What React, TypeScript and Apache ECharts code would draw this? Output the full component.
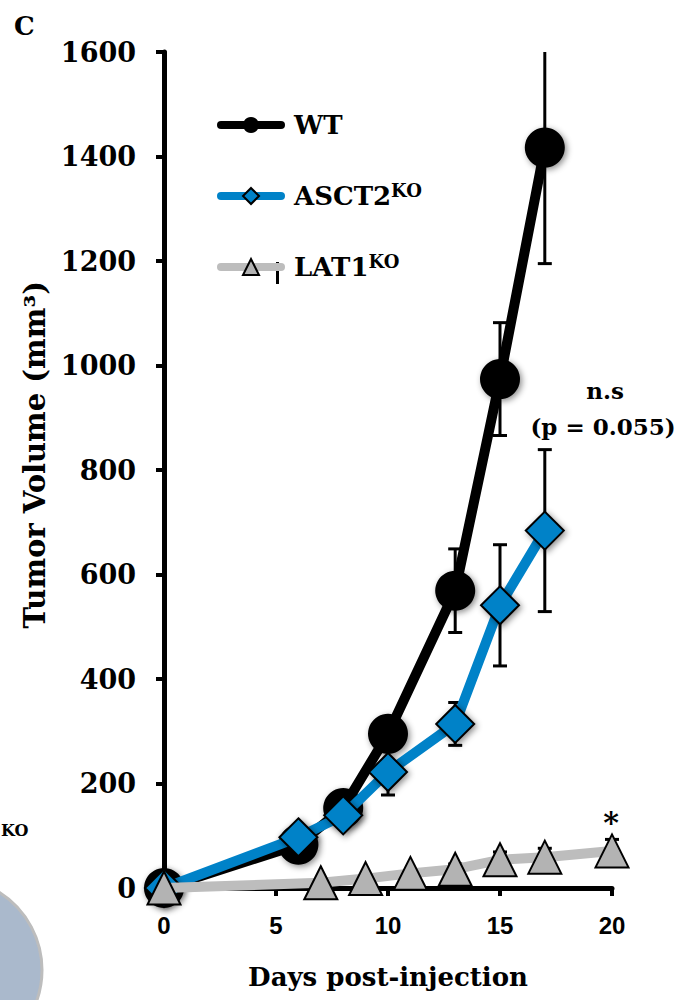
import React, { useEffect, useRef } from "react";
import * as echarts from "echarts";

// ---- data ----
const wtDays = [0, 6, 8, 10, 13, 15, 17];
const wtValues = [0, 83, 153, 295, 569, 974, 1417];
const wtErrors = [0, 10, 15, 20, 80, 108, 222];

const asctDays = [0, 6, 8, 10, 13, 15, 17];
const asctValues = [0, 97, 139, 222, 314, 541, 684];
const asctErrors = [0, 10, 12, 44, 41, 116, 155];

const latDays = [0, 7, 9, 11, 13, 15, 17, 20];
const latValues = [0, 10, 18, 28, 36, 54, 59, 71];
const latErrors = [0, 2, 3, 5, 10, 15, 17, 22];

const seriesNames = ["WT", "ASCT2", "LAT1"];
const xMin = 0;
const xMax = 20;
const xInterval = 5;
const yMin = 0;
const yMax = 1600;
const yInterval = 200;

const SERIF = "'DejaVu Serif', serif";
const SANS = "'Liberation Sans', Arial, sans-serif";

const errorSeries = (name: string, days: number[], values: number[], errors: number[]) => ({
  type: "custom",
  name: name + " error",
  z: 2,
  silent: true,
  clip: false,
  data: days.map((d, i) => [d, values[i], errors[i]]),
  renderItem: (params: any, api: any) => {
    const x = api.value(0);
    const v = api.value(1);
    const e = api.value(2);
    const hiVal = Math.min(v + e, yMax);
    const top = api.coord([x, hiVal]);
    const bot = api.coord([x, v - e]);
    const half = 7;
    const st = { stroke: "#000", lineWidth: 3 };
    const children: any[] = [
      { type: "line", shape: { x1: top[0], y1: top[1], x2: bot[0], y2: bot[1] }, style: st },
      { type: "line", shape: { x1: bot[0] - half, y1: bot[1], x2: bot[0] + half, y2: bot[1] }, style: st },
    ];
    if (v + e <= yMax) {
      children.push({ type: "line", shape: { x1: top[0] - half, y1: top[1], x2: top[0] + half, y2: top[1] }, style: st });
    }
    return { type: "group", children };
  },
});

const shadow = {
  shadowBlur: 6,
  shadowColor: "rgba(0,0,0,0.45)",
  shadowOffsetX: 2,
  shadowOffsetY: 2,
};

export default function App() {
  const ref = useRef<HTMLDivElement>(null);

  useEffect(() => {
    if (!ref.current) return;
    const chart = echarts.init(ref.current, undefined, { renderer: "svg" });

    const option: any = {
      animation: false,
      backgroundColor: "#fff",
      grid: { left: 164, right: 73, top: 52, bottom: 112, containLabel: false, outerBoundsMode: "none" },
      legend: {
        data: seriesNames,
        orient: "vertical",
        left: 217,
        top: 112,
        padding: 0,
        itemWidth: 60,
        itemHeight: 20,
        itemGap: 43,
        selectedMode: false,
        lineStyle: { width: 8, cap: "round" },
        formatter: (name: string) => (name === "WT" ? "{m|WT}" : `{m|${name}}{s|KO}`),
        textStyle: {
          padding: [0, 0, 0, 8],
          rich: {
            m: { fontFamily: SERIF, fontWeight: "bold", fontSize: 26, color: "#000", lineHeight: 30 },
            s: { fontFamily: SERIF, fontWeight: "bold", fontSize: 18, color: "#000", verticalAlign: "top", lineHeight: 20 },
          },
        },
      },
      xAxis: {
        type: "value",
        min: xMin,
        max: xMax,
        interval: xInterval,
        splitLine: { show: false },
        axisLine: { show: true, lineStyle: { color: "#000", width: 5 } },
        axisTick: { show: true, length: 8, lineStyle: { color: "#000", width: 4 } },
        axisLabel: { fontFamily: SANS, fontWeight: "bold", fontSize: 24, color: "#000", margin: 25 },
        name: "Days post-injection",
        nameLocation: "middle",
        nameGap: 76,
        nameTextStyle: { fontFamily: SERIF, fontWeight: "bold", fontSize: 26, color: "#000" },
      },
      yAxis: {
        type: "value",
        min: yMin,
        max: yMax,
        interval: yInterval,
        splitLine: { show: false },
        axisLine: { show: true, lineStyle: { color: "#000", width: 5 } },
        axisTick: { show: true, length: 8, lineStyle: { color: "#000", width: 4 } },
        axisLabel: {
          fontFamily: SERIF,
          fontWeight: "bold",
          fontSize: 27,
          color: "#000",
          margin: 28,
          formatter: (v: number) => String(v),
        },
        name: "\u00a0\u00a0\u00a0Tumor Volume (mm³)",
        nameLocation: "middle",
        nameGap: 114,
        nameRotate: 90,
        nameTextStyle: { fontFamily: SERIF, fontWeight: "bold", fontSize: 29, color: "#000" },
      },
      series: [
        errorSeries("WT", wtDays, wtValues, wtErrors),
        errorSeries("ASCT2", asctDays, asctValues, asctErrors),
        errorSeries("LAT1", latDays, latValues, latErrors),
        {
          type: "line",
          name: "WT",
          z: 3,
          clip: false,
          data: wtDays.map((d, i) => [d, wtValues[i]]),
          symbol: "circle",
          symbolSize: 40,
          lineStyle: { color: "#000", width: 10 },
          itemStyle: { color: "#000", ...shadow },
        },
        {
          type: "line",
          name: "ASCT2",
          z: 4,
          clip: false,
          data: asctDays.map((d, i) => [d, asctValues[i]]),
          symbol: "diamond",
          symbolSize: 38,
          lineStyle: { color: "#0082c8", width: 10 },
          itemStyle: { color: "#0082c8", borderColor: "#000", borderWidth: 2, ...shadow },
        },
        {
          type: "line",
          name: "LAT1",
          z: 5,
          clip: false,
          data: latDays.map((d, i) => [d, latValues[i]]),
          symbol: "triangle",
          symbolSize: [33, 33],
          lineStyle: { color: "#bdbdbd", width: 10 },
          itemStyle: { color: "#b3b3b3", borderColor: "#000", borderWidth: 2 },
        },
      ],
      graphic: [
        {
          type: "text",
          x: 14,
          y: 13,
          style: { text: "C", fontFamily: SERIF, fontWeight: "bold", fontSize: 26, fill: "#000" },
        },
        {
          type: "text",
          x: 1,
          y: 822,
          style: { text: "KO", fontFamily: SERIF, fontWeight: "bold", fontSize: 16, fill: "#000" },
        },
        {
          type: "circle",
          shape: { cx: -50, cy: 970, r: 92 },
          style: { fill: "#aab9cc", stroke: "#bdbdbd", lineWidth: 3 },
        },
        {
          type: "rect",
          shape: { x: 276, y: 262, width: 3, height: 22 },
          style: { fill: "#000" },
        },
        {
          type: "text",
          x: 605,
          y: 390,
          style: { text: "n.s", fontFamily: SERIF, fontWeight: "bold", fontSize: 23, fill: "#000", align: "center", verticalAlign: "middle", textAlign: "center", textVerticalAlign: "middle" },
        },
        {
          type: "text",
          x: 603,
          y: 426,
          style: { text: "(p = 0.055)", fontFamily: SERIF, fontWeight: "bold", fontSize: 23, fill: "#000", align: "center", verticalAlign: "middle", textAlign: "center", textVerticalAlign: "middle" },
        },
        {
          type: "text",
          x: 611,
          y: 822,
          style: { text: "*", fontFamily: SERIF, fontWeight: "bold", fontSize: 30, fill: "#000", align: "center", verticalAlign: "middle", textAlign: "center", textVerticalAlign: "middle" },
        },
      ],
    };

    chart.setOption(option);
    return () => chart.dispose();
  }, []);

  return (
    <div
      ref={ref}
      style={{ position: "fixed", left: 0, top: 0, width: 685, height: 1000, background: "#fff" }}
    />
  );
}
